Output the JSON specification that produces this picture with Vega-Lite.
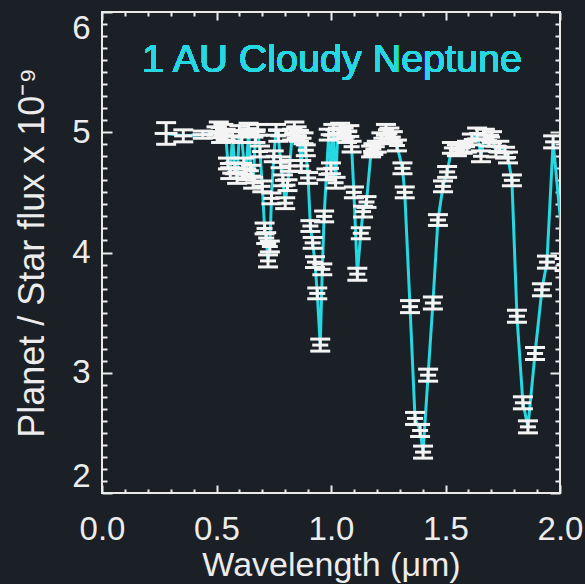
{
  "$schema": "https://vega.github.io/schema/vega-lite/v6.json",
  "width": 458,
  "height": 481,
  "autosize": {"type": "none"},
  "padding": {"left": 102, "top": 12, "right": 25, "bottom": 91},
  "background": "#1b2026",
  "config": {
    "view": {"stroke": "#e9e9e9", "strokeWidth": 2},
    "font": "Liberation Sans",
    "axis": {
      "domain": false,
      "grid": false,
      "tickColor": "#ececec",
      "tickWidth": 2,
      "labelColor": "#ececec",
      "titleColor": "#ececec",
      "labelFont": "Liberation Sans",
      "titleFont": "Liberation Sans",
      "titleFontWeight": "normal",
      "labelFlush": false,
      "labelOverlap": false
    }
  },
  "data": {
    "values": [
      {"w": 0.28, "f": 4.99, "e": 0.09, "xe": 0.05},
      {"w": 0.355, "f": 4.97, "e": 0.05, "xe": 0.04},
      {"w": 0.44, "f": 4.98, "e": 0.03, "xe": 0.045},
      {"w": 0.50, "f": 5.00, "e": 0.045, "xe": 0.035},
      {"w": 0.51, "f": 5.04, "e": 0.045, "xe": 0.035},
      {"w": 0.52, "f": 4.96, "e": 0.045, "xe": 0.035},
      {"w": 0.53, "f": 5.02, "e": 0.045, "xe": 0.035},
      {"w": 0.54, "f": 4.98, "e": 0.045, "xe": 0.035},
      {"w": 0.55, "f": 4.74, "e": 0.045, "xe": 0.035},
      {"w": 0.56, "f": 4.66, "e": 0.045, "xe": 0.035},
      {"w": 0.57, "f": 4.97, "e": 0.045, "xe": 0.035},
      {"w": 0.58, "f": 4.70, "e": 0.045, "xe": 0.035},
      {"w": 0.59, "f": 4.62, "e": 0.045, "xe": 0.035},
      {"w": 0.60, "f": 5.01, "e": 0.045, "xe": 0.035},
      {"w": 0.61, "f": 4.96, "e": 0.045, "xe": 0.035},
      {"w": 0.62, "f": 4.74, "e": 0.045, "xe": 0.035},
      {"w": 0.63, "f": 4.65, "e": 0.045, "xe": 0.035},
      {"w": 0.64, "f": 5.03, "e": 0.045, "xe": 0.035},
      {"w": 0.65, "f": 4.68, "e": 0.045, "xe": 0.035},
      {"w": 0.66, "f": 4.58, "e": 0.045, "xe": 0.035},
      {"w": 0.67, "f": 4.96, "e": 0.045, "xe": 0.035},
      {"w": 0.68, "f": 5.02, "e": 0.045, "xe": 0.035},
      {"w": 0.69, "f": 4.84, "e": 0.045, "xe": 0.035},
      {"w": 0.70, "f": 4.55, "e": 0.045, "xe": 0.035},
      {"w": 0.71, "f": 4.20, "e": 0.045, "xe": 0.035},
      {"w": 0.717, "f": 4.12, "e": 0.045, "xe": 0.035},
      {"w": 0.725, "f": 3.93, "e": 0.05, "xe": 0.035},
      {"w": 0.733, "f": 4.05, "e": 0.045, "xe": 0.035},
      {"w": 0.74, "f": 4.45, "e": 0.045, "xe": 0.035},
      {"w": 0.75, "f": 4.80, "e": 0.045, "xe": 0.035},
      {"w": 0.76, "f": 5.02, "e": 0.045, "xe": 0.035},
      {"w": 0.77, "f": 4.97, "e": 0.045, "xe": 0.035},
      {"w": 0.78, "f": 4.75, "e": 0.045, "xe": 0.035},
      {"w": 0.79, "f": 4.60, "e": 0.045, "xe": 0.035},
      {"w": 0.80, "f": 4.41, "e": 0.045, "xe": 0.035},
      {"w": 0.81, "f": 4.56, "e": 0.045, "xe": 0.035},
      {"w": 0.82, "f": 4.72, "e": 0.045, "xe": 0.035},
      {"w": 0.83, "f": 4.98, "e": 0.045, "xe": 0.035},
      {"w": 0.84, "f": 5.04, "e": 0.045, "xe": 0.035},
      {"w": 0.85, "f": 5.00, "e": 0.045, "xe": 0.035},
      {"w": 0.86, "f": 4.97, "e": 0.045, "xe": 0.035},
      {"w": 0.87, "f": 4.72, "e": 0.045, "xe": 0.035},
      {"w": 0.88, "f": 4.95, "e": 0.045, "xe": 0.035},
      {"w": 0.89, "f": 4.85, "e": 0.045, "xe": 0.035},
      {"w": 0.90, "f": 4.62, "e": 0.045, "xe": 0.035},
      {"w": 0.91, "f": 4.22, "e": 0.045, "xe": 0.035},
      {"w": 0.92, "f": 4.08, "e": 0.045, "xe": 0.035},
      {"w": 0.93, "f": 3.92, "e": 0.045, "xe": 0.035},
      {"w": 0.94, "f": 3.66, "e": 0.045, "xe": 0.035},
      {"w": 0.953, "f": 3.23, "e": 0.05, "xe": 0.035},
      {"w": 0.962, "f": 3.86, "e": 0.045, "xe": 0.035},
      {"w": 0.97, "f": 4.30, "e": 0.045, "xe": 0.035},
      {"w": 0.98, "f": 4.65, "e": 0.045, "xe": 0.035},
      {"w": 0.99, "f": 4.98, "e": 0.045, "xe": 0.035},
      {"w": 1.00, "f": 4.70, "e": 0.045, "xe": 0.035},
      {"w": 1.01, "f": 5.02, "e": 0.045, "xe": 0.035},
      {"w": 1.02, "f": 4.58, "e": 0.045, "xe": 0.035},
      {"w": 1.03, "f": 4.99, "e": 0.045, "xe": 0.035},
      {"w": 1.04, "f": 5.03, "e": 0.045, "xe": 0.035},
      {"w": 1.055, "f": 4.99, "e": 0.045, "xe": 0.035},
      {"w": 1.07, "f": 4.96, "e": 0.045, "xe": 0.035},
      {"w": 1.08, "f": 5.01, "e": 0.045, "xe": 0.035},
      {"w": 1.09, "f": 4.88, "e": 0.045, "xe": 0.035},
      {"w": 1.10, "f": 4.50, "e": 0.045, "xe": 0.035},
      {"w": 1.115, "f": 3.82, "e": 0.05, "xe": 0.035},
      {"w": 1.13, "f": 4.16, "e": 0.045, "xe": 0.035},
      {"w": 1.14, "f": 4.34, "e": 0.045, "xe": 0.035},
      {"w": 1.155, "f": 4.42, "e": 0.045, "xe": 0.035},
      {"w": 1.175, "f": 4.84, "e": 0.045, "xe": 0.035},
      {"w": 1.185, "f": 4.86, "e": 0.045, "xe": 0.035},
      {"w": 1.20, "f": 4.88, "e": 0.045, "xe": 0.035},
      {"w": 1.22, "f": 4.95, "e": 0.045, "xe": 0.035},
      {"w": 1.24, "f": 5.02, "e": 0.045, "xe": 0.035},
      {"w": 1.255, "f": 4.99, "e": 0.045, "xe": 0.035},
      {"w": 1.27, "f": 4.96, "e": 0.045, "xe": 0.035},
      {"w": 1.288, "f": 4.89, "e": 0.045, "xe": 0.035},
      {"w": 1.312, "f": 4.70, "e": 0.045, "xe": 0.035},
      {"w": 1.322, "f": 4.50, "e": 0.045, "xe": 0.035},
      {"w": 1.345, "f": 3.55, "e": 0.05, "xe": 0.035},
      {"w": 1.367, "f": 2.62, "e": 0.05, "xe": 0.035},
      {"w": 1.389, "f": 2.52, "e": 0.05, "xe": 0.035},
      {"w": 1.402, "f": 2.34, "e": 0.05, "xe": 0.035},
      {"w": 1.424, "f": 2.98, "e": 0.05, "xe": 0.035},
      {"w": 1.445, "f": 3.58, "e": 0.05, "xe": 0.035},
      {"w": 1.467, "f": 4.27, "e": 0.045, "xe": 0.035},
      {"w": 1.489, "f": 4.55, "e": 0.045, "xe": 0.035},
      {"w": 1.507, "f": 4.67, "e": 0.045, "xe": 0.035},
      {"w": 1.528, "f": 4.87, "e": 0.045, "xe": 0.035},
      {"w": 1.55, "f": 4.85, "e": 0.045, "xe": 0.035},
      {"w": 1.575, "f": 4.87, "e": 0.045, "xe": 0.035},
      {"w": 1.594, "f": 4.88, "e": 0.045, "xe": 0.035},
      {"w": 1.615, "f": 4.94, "e": 0.045, "xe": 0.035},
      {"w": 1.638, "f": 4.99, "e": 0.045, "xe": 0.035},
      {"w": 1.655, "f": 4.80, "e": 0.045, "xe": 0.035},
      {"w": 1.672, "f": 4.98, "e": 0.045, "xe": 0.035},
      {"w": 1.69, "f": 4.93, "e": 0.045, "xe": 0.035},
      {"w": 1.703, "f": 4.96, "e": 0.045, "xe": 0.035},
      {"w": 1.72, "f": 4.84, "e": 0.045, "xe": 0.035},
      {"w": 1.735, "f": 4.88, "e": 0.045, "xe": 0.035},
      {"w": 1.76, "f": 4.83, "e": 0.045, "xe": 0.035},
      {"w": 1.773, "f": 4.79, "e": 0.045, "xe": 0.035},
      {"w": 1.79, "f": 4.60, "e": 0.045, "xe": 0.035},
      {"w": 1.812, "f": 3.47, "e": 0.05, "xe": 0.035},
      {"w": 1.838, "f": 2.75, "e": 0.05, "xe": 0.035},
      {"w": 1.86, "f": 2.55, "e": 0.05, "xe": 0.035},
      {"w": 1.891, "f": 3.16, "e": 0.05, "xe": 0.035},
      {"w": 1.921, "f": 3.69, "e": 0.05, "xe": 0.035},
      {"w": 1.943, "f": 3.92, "e": 0.05, "xe": 0.035},
      {"w": 1.97, "f": 4.92, "e": 0.05, "xe": 0.035},
      {"w": 2.02, "f": 3.90, "e": 0.05, "xe": 0.035}
    ]
  },
  "resolve": {"axis": {"x": "independent", "y": "independent"}},
  "layer": [
    {
      "mark": {"type": "line", "color": "#26d8e2", "strokeWidth": 3, "clip": true},
      "encoding": {
        "x": {
          "field": "w", "type": "quantitative",
          "scale": {"domain": [0, 2], "nice": false, "zero": false},
          "axis": {
            "orient": "bottom", "values": [0, 0.5, 1, 1.5, 2], "format": ".1f",
            "labelFontSize": 33, "tickSize": -8, "labelPadding": 28,
            "title": "Wavelength (μm)", "titleFontSize": 34, "titlePadding": 2
          }
        },
        "y": {
          "field": "f", "type": "quantitative",
          "scale": {"domain": [2, 6], "nice": false, "zero": false},
          "axis": {
            "orient": "left", "values": [2, 3, 4, 5, 6], "format": "d",
            "labelFontSize": 33, "tickSize": -10, "labelPadding": 22, "labelFlush": true,
            "title": "Planet / Star flux x 10⁻⁹", "titleFontSize": 36, "titlePadding": 20
          }
        }
      }
    },
    {
      "mark": {"type": "errorbar", "ticks": {"opacity": 1, "color": "#f4f4f4"}, "rule": {"opacity": 1, "color": "#f4f4f4"}, "size": 20, "thickness": 3, "color": "#f4f4f4", "opacity": 1, "clip": true},
      "encoding": {
        "x": {
          "field": "w", "type": "quantitative",
          "scale": {"domain": [0, 2], "nice": false, "zero": false},
          "axis": {
            "orient": "bottom", "labels": false, "tickSize": -4, "title": null,
            "values": [0.1, 0.2, 0.3, 0.4, 0.6, 0.7, 0.8, 0.9, 1.1, 1.2, 1.3, 1.4, 1.6, 1.7, 1.8, 1.9]
          }
        },
        "y": {
          "field": "f", "type": "quantitative",
          "scale": {"domain": [2, 6], "nice": false, "zero": false},
          "axis": {
            "orient": "left", "labels": false, "tickSize": -5, "title": null,
            "values": [2.1, 2.2, 2.3, 2.4, 2.5, 2.6, 2.7, 2.8, 2.9, 3.1, 3.2, 3.3, 3.4, 3.5, 3.6, 3.7, 3.8, 3.9, 4.1, 4.2, 4.3, 4.4, 4.5, 4.6, 4.7, 4.8, 4.9, 5.1, 5.2, 5.3, 5.4, 5.5, 5.6, 5.7, 5.8, 5.9]
          }
        },
        "yError": {"field": "e"}
      }
    },
    {
      "mark": {"type": "errorbar", "ticks": false, "rule": {"opacity": 1, "color": "#f4f4f4"}, "thickness": 3, "color": "#f4f4f4", "opacity": 1, "clip": true},
      "encoding": {
        "x": {
          "field": "w", "type": "quantitative",
          "scale": {"domain": [0, 2], "nice": false, "zero": false},
          "axis": {"orient": "top", "labels": false, "tickSize": -8, "title": null, "values": [0, 0.5, 1, 1.5, 2]}
        },
        "xError": {"field": "xe"},
        "y": {
          "field": "f", "type": "quantitative",
          "scale": {"domain": [2, 6], "nice": false, "zero": false},
          "axis": {"orient": "right", "labels": false, "tickSize": -10, "title": null, "values": [2, 3, 4, 5, 6]}
        }
      }
    },
    {
      "mark": {
        "type": "text", "text": "1 AU Cloudy Neptune", "align": "left", "baseline": "alphabetic",
        "fontSize": 39.5, "color": "#26d8e2", "font": "Liberation Sans"
      },
      "encoding": {
        "x": {
          "datum": 0.175, "type": "quantitative",
          "scale": {"domain": [0, 2], "nice": false, "zero": false},
          "axis": {
            "orient": "top", "labels": false, "tickSize": -4, "title": null,
            "values": [0.1, 0.2, 0.3, 0.4, 0.6, 0.7, 0.8, 0.9, 1.1, 1.2, 1.3, 1.4, 1.6, 1.7, 1.8, 1.9]
          }
        },
        "y": {
          "datum": 5.5, "type": "quantitative",
          "scale": {"domain": [2, 6], "nice": false, "zero": false},
          "axis": {
            "orient": "right", "labels": false, "tickSize": -5, "title": null,
            "values": [2.1, 2.2, 2.3, 2.4, 2.5, 2.6, 2.7, 2.8, 2.9, 3.1, 3.2, 3.3, 3.4, 3.5, 3.6, 3.7, 3.8, 3.9, 4.1, 4.2, 4.3, 4.4, 4.5, 4.6, 4.7, 4.8, 4.9, 5.1, 5.2, 5.3, 5.4, 5.5, 5.6, 5.7, 5.8, 5.9]
          }
        }
      }
    }
  ]
}
